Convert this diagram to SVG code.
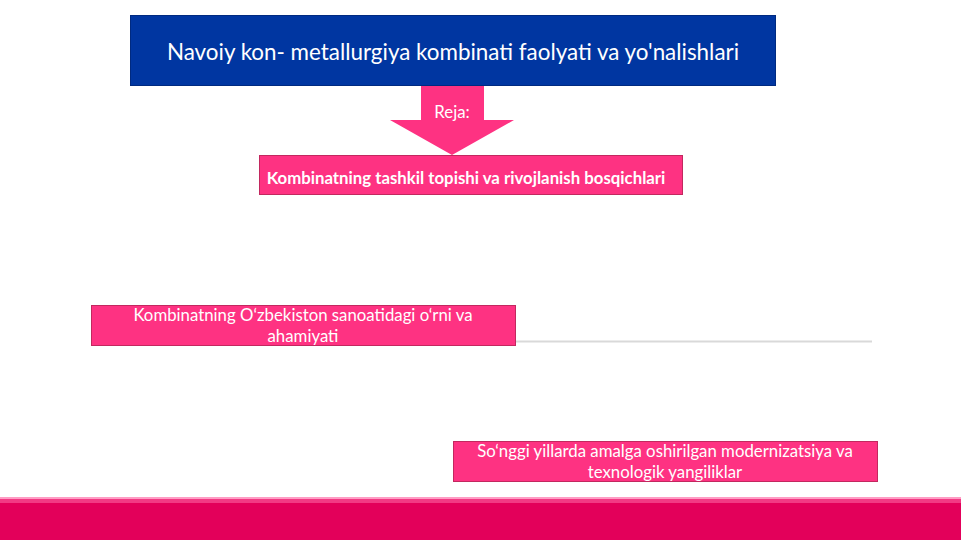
<svg xmlns="http://www.w3.org/2000/svg" width="961" height="540" viewBox="0 0 961 540">
<style>
.pbox{fill:#fe3282;stroke:#c2285f;stroke-width:1}
.t{font-family:Lato,"Liberation Sans",sans-serif;fill:#ffffff;text-anchor:middle;font-size:16.8px}
</style>
<rect width="961" height="540" fill="#ffffff"/>
<g id="footer">
<rect x="0" y="497" width="961" height="2" fill="#ff9cc4"/>
<rect x="0" y="499" width="961" height="4" fill="#f23a84"/>
<rect x="0" y="503" width="961" height="37" fill="#e3005a"/>
</g>
<g id="title">
<rect x="130.5" y="15.5" width="645" height="70" fill="#0036a1" stroke="#002a80"/>
<text class="t" x="453" y="60" style="font-size:22.4px">Navoiy kon- metallurgiya kombinati faolyati va yo'nalishlari</text>
</g>
<g id="connectors">
<path d="M421,86 H484 V120 H514 L452,155 L390,120 H421 Z" fill="#fe3282"/>
<line x1="515" y1="341.5" x2="872" y2="341.5" stroke="#d9d9d9" stroke-width="2"/>
</g>
<g id="reja">
<text class="t" x="452" y="118">Reja:</text>
</g>
<g id="box1">
<rect class="pbox" x="259.5" y="155.5" width="423" height="39"/>
<text class="t" x="466" y="184" font-weight="bold">Kombinatning tashkil topishi va rivojlanish bosqichlari</text>
</g>
<g id="box2">
<rect class="pbox" x="91.5" y="305.5" width="424" height="40"/>
<text class="t" x="303" y="321">Kombinatning O‘zbekiston sanoatidagi o‘rni va</text>
<text class="t" x="303" y="342">ahamiyati</text>
</g>
<g id="box3">
<rect class="pbox" x="453.5" y="441.5" width="424" height="40"/>
<text class="t" x="665" y="457">So‘nggi yillarda amalga oshirilgan modernizatsiya va</text>
<text class="t" x="665" y="478">texnologik yangiliklar</text>
</g>
</svg>
